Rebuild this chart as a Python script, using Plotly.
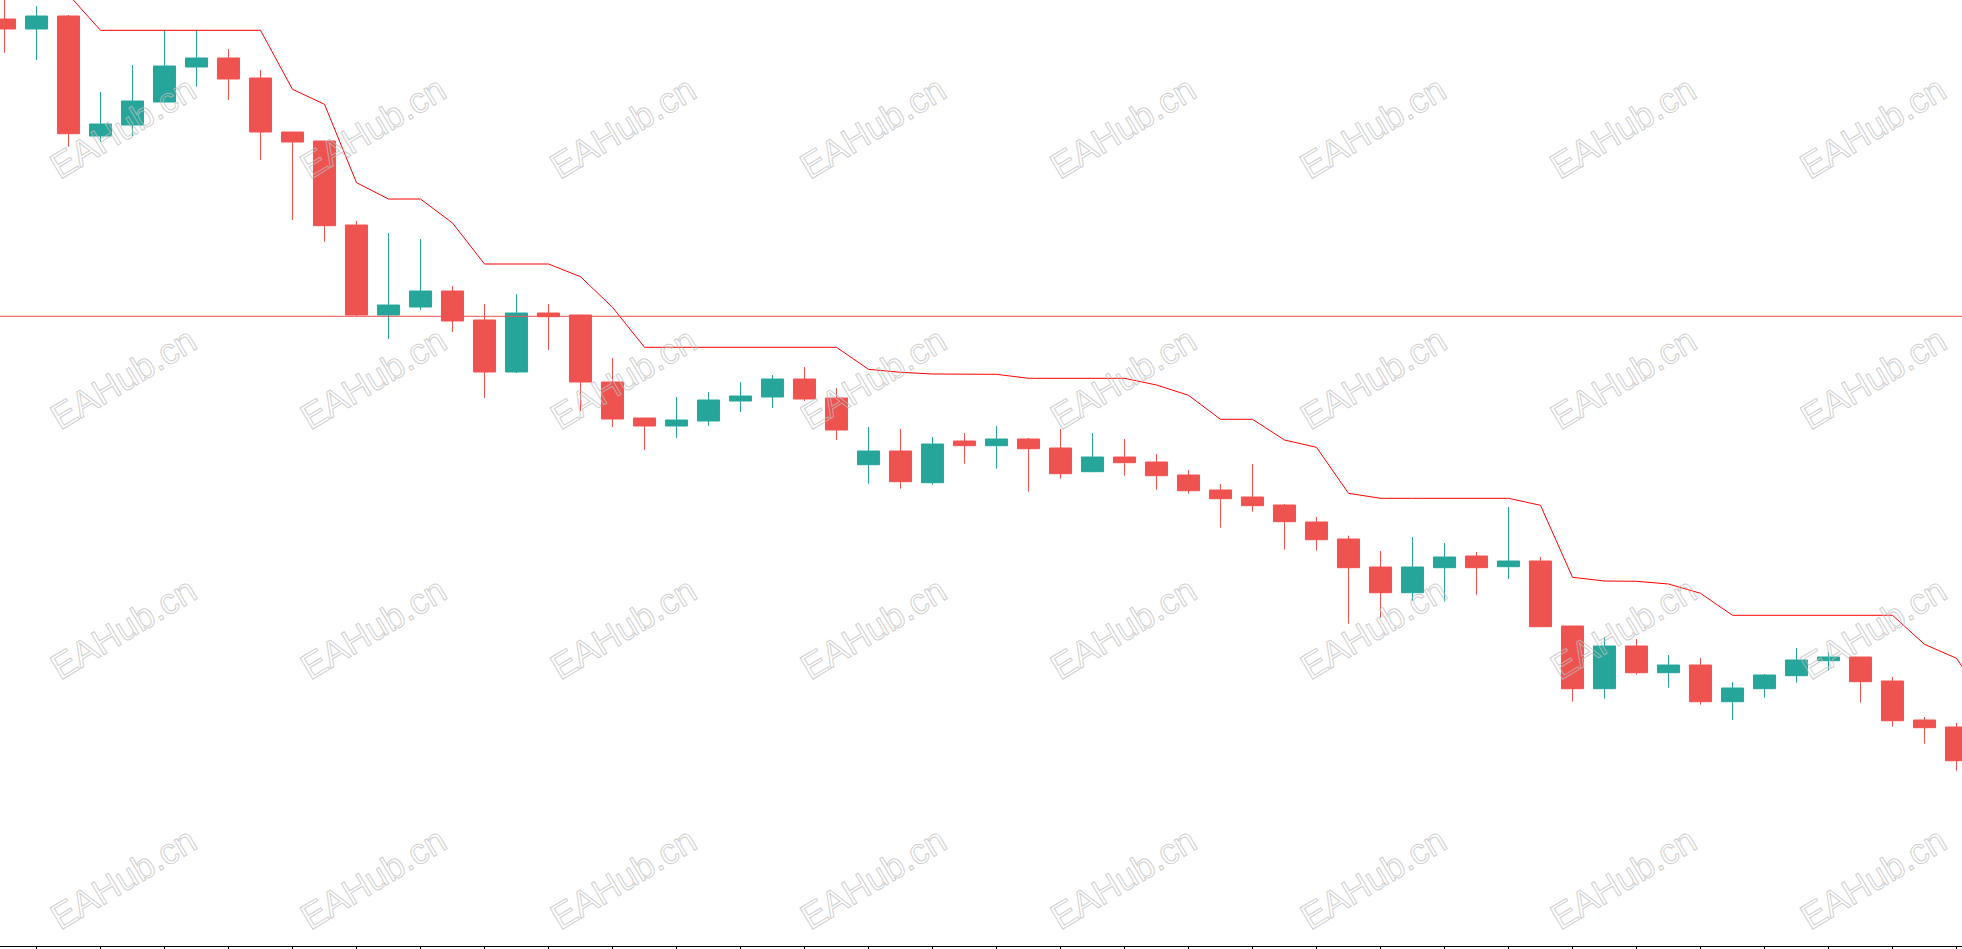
import plotly.graph_objects as go

# Bar index (no visible time labels in the reference)
bars = list(range(62))

opens = [1981, 1971, 1984, 1864, 1875, 1898, 1933, 1942, 1922, 1868,
         1859, 1775, 1685, 1693, 1709, 1680, 1628, 1687, 1685, 1618,
         1582, 1574, 1579, 1599, 1603, 1621, 1602, 1535.3, 1549, 1517.3,
         1559, 1554.3, 1561, 1552, 1528.3, 1543, 1538, 1525, 1510, 1503,
         1495, 1478, 1461, 1433, 1407.3, 1432.3, 1444, 1433.3, 1439, 1374,
         1311.3, 1354, 1327.3, 1335, 1298.3, 1311.3, 1324.3, 1339.3, 1343, 1319,
         1280, 1273]
highs = [2005, 1994, 1985, 1908, 1935, 1969.7, 1969.7, 1951, 1930, 1868,
         1859, 1779, 1767, 1761, 1714, 1696, 1706, 1696, 1685, 1642,
         1582, 1603, 1608, 1618, 1625, 1633, 1612, 1573, 1571, 1563,
         1567, 1574, 1562, 1571, 1567, 1561, 1546, 1530, 1516, 1536,
         1496, 1483, 1464.3, 1449, 1463, 1457, 1448, 1493, 1443, 1374,
         1363, 1361, 1345, 1342, 1318, 1326, 1352, 1348, 1343, 1323,
         1283, 1277]
lows = [1947.3, 1940, 1853.3, 1858.3, 1864, 1897.3, 1913.3, 1900, 1840, 1780,
        1758.3, 1684, 1661, 1690, 1668, 1602, 1627, 1650, 1589, 1573,
        1550, 1562, 1574, 1588, 1592, 1599, 1560, 1516.3, 1511.3, 1515.3,
        1536.3, 1531.3, 1508.3, 1521.3, 1528.3, 1524.3, 1510.3, 1506.3, 1472.3, 1488.3,
        1450.3, 1449.3, 1376.3, 1382.3, 1399.3, 1398.3, 1405.3, 1421, 1373.3, 1298.3,
        1301.3, 1325.3, 1312.3, 1295.3, 1280, 1302.3, 1317.3, 1329.3, 1297.3, 1273.3,
        1256.3, 1229.3]
closes = [1971, 1984, 1866.3, 1876, 1899, 1934, 1942, 1921, 1868, 1858,
          1774.3, 1685, 1695, 1709, 1679, 1628, 1687, 1683.3, 1618, 1581,
          1574, 1580, 1600, 1604, 1621, 1601, 1570, 1549, 1518.3, 1556,
          1554.3, 1561, 1551.3, 1526.3, 1543, 1537.3, 1524.3, 1509.3, 1501.3, 1494.3,
          1478.3, 1460.3, 1432.3, 1407.3, 1433, 1443, 1432.3, 1439, 1373.3, 1311.3,
          1354, 1327.3, 1335, 1298.3, 1312, 1325, 1340, 1343, 1318.3, 1279.3,
          1272.3, 1239.3]

# Trailing stop line (one more value than bars: it continues past the right edge)
trail_x = list(range(63))
trail = [2035, 2020, 2005.3, 1969.7, 1969.7, 1969.7, 1969.7, 1969.7, 1969.7, 1910.7,
         1895.7, 1817.3, 1801, 1801, 1777, 1736, 1736, 1736, 1723.3, 1692.7,
         1652.7, 1652.7, 1652.7, 1652.7, 1652.7, 1652.7, 1652.7, 1630.7, 1627.7, 1626,
         1625.7, 1625.7, 1621.7, 1621.7, 1621.7, 1621.7, 1615, 1604.7, 1580.7, 1580.7,
         1560, 1552.7, 1506.7, 1501.7, 1501.7, 1501.7, 1501.7, 1501.7, 1494.7, 1422.7,
         1419, 1418.7, 1416, 1406.7, 1384.7, 1384.7, 1384.7, 1384.7, 1384.7, 1384.7,
         1355.7, 1341.7, 1295]

level = 1683.7
tick_bars = list(range(1, 62, 2))

UP = "#26a69a"
DOWN = "#ef5350"

fig = go.Figure()
fig.add_trace(go.Candlestick(
    x=bars, open=opens, high=highs, low=lows, close=closes,
    increasing=dict(line=dict(color=UP, width=1), fillcolor=UP),
    decreasing=dict(line=dict(color=DOWN, width=1), fillcolor=DOWN),
    whiskerwidth=0, hoverinfo="skip", showlegend=False,
))
fig.add_trace(go.Scatter(
    x=trail_x, y=trail, mode="lines",
    line=dict(color="#ff0000", width=1),
    hoverinfo="skip", showlegend=False,
))
fig.add_hline(y=level, line=dict(color="#f05252", width=1))

# Watermarks (outlined text, styled in post_script)
W, H = 1962, 946
for cx in range(8):
    for cy in range(4):
        px = 123 + 250 * cx
        py = 128 + 250 * cy
        fig.add_annotation(
            xref="paper", yref="paper", x=px / W, y=1 - py / H,
            text="EAHub.cn", showarrow=False, textangle=-31,
            xanchor="center", yanchor="middle",
            font=dict(family="Liberation Sans, Arial", size=36, color="#d6d6d6"),
        )

fig.update_layout(
    width=1962, height=949,
    margin=dict(l=0, r=0, t=0, b=3, autoexpand=False),
    paper_bgcolor="white", plot_bgcolor="white",
    boxgap=0.31, boxgroupgap=0,
    showlegend=False,
    xaxis=dict(range=[-0.1406, 61.172], rangeslider=dict(visible=False),
               showgrid=False, zeroline=False, showline=True, linecolor="#000000",
               linewidth=1, ticks="outside", ticklen=6, tickcolor="#000000",
               tickvals=tick_bars, showticklabels=False, fixedrange=True),
    yaxis=dict(range=[1054, 2000], showgrid=False, zeroline=False,
               showticklabels=False, ticks="", showline=False, fixedrange=True),
)

post = """
document.documentElement.style.margin='0';
document.body.style.margin='0';
document.body.style.overflow='hidden';
document.querySelectorAll('.annotation-text').forEach(function(t){
  t.style.fill='none';
  t.style.stroke='rgba(190,190,190,0.75)';
  t.style.strokeWidth='1px';
});
"""
fig.write_html("out.html", config={"displayModeBar": False}, post_script=post)
